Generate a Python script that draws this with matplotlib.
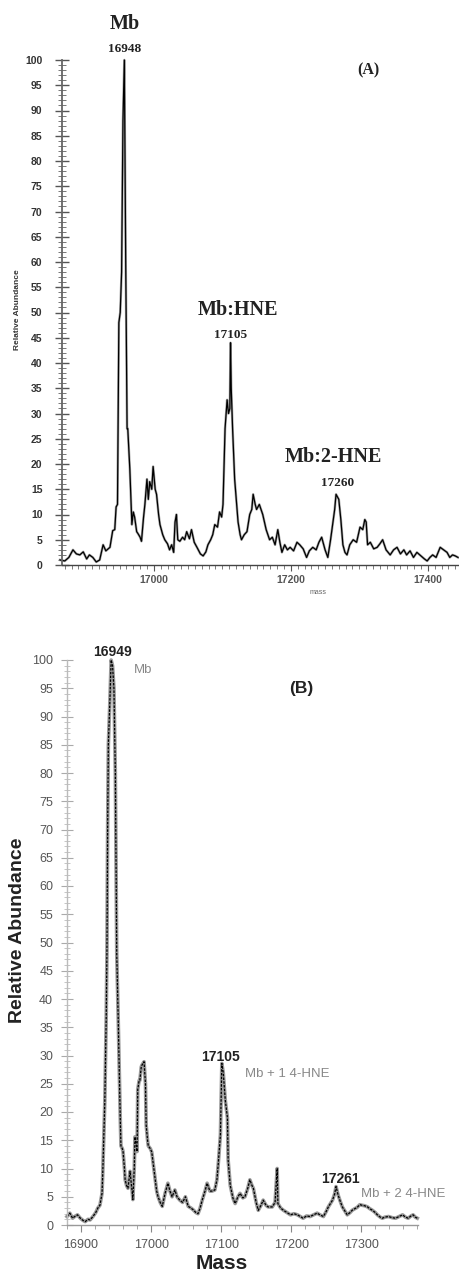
import matplotlib
matplotlib.use('Agg')
import matplotlib.pyplot as plt
from matplotlib.ticker import MultipleLocator, FixedLocator

# ---------------- data: panel (A) ----------------
mass_a = [16863, 16870, 16876, 16882, 16887, 16892, 16897, 16902, 16906, 16911,
          16916, 16921, 16926, 16930, 16936, 16940, 16943, 16945, 16947, 16949,
          16951, 16953, 16955, 16957, 16959, 16961, 16962, 16965, 16968, 16970,
          16972, 16975, 16977, 16980, 16982, 16985, 16987, 16990, 16992, 16994,
          16997, 16999, 17002, 17004, 17007, 17009, 17013, 17016, 17020, 17023,
          17026, 17029, 17031, 17033, 17035, 17038, 17042, 17045, 17048, 17052,
          17055, 17059, 17063, 17068, 17072, 17076, 17079, 17083, 17086, 17089,
          17093, 17096, 17099, 17101, 17104, 17107, 17109, 17111, 17112, 17113,
          17115, 17118, 17121, 17123, 17126, 17128, 17132, 17136, 17140, 17143,
          17145, 17148, 17150, 17154, 17159, 17164, 17169, 17173, 17177, 17181,
          17184, 17187, 17191, 17195, 17199, 17204, 17209, 17213, 17218, 17223,
          17227, 17232, 17237, 17241, 17245, 17250, 17254, 17258, 17261, 17264,
          17266, 17268, 17270, 17273, 17276, 17279, 17282, 17286, 17291, 17296,
          17301, 17305, 17308, 17310, 17312, 17316, 17321, 17326, 17330, 17334,
          17339, 17345, 17350, 17355, 17360, 17365, 17369, 17374, 17379, 17384,
          17390, 17395, 17399, 17403, 17407, 17412, 17418, 17423, 17428, 17432,
          17436, 17440, 17444]
abund_a = [1.0, 0.8, 1.5, 3.0, 2.2, 2.0, 2.6, 1.2, 2.0, 1.5,
           0.6, 1.0, 4.0, 2.8, 3.5, 6.8, 7.0, 11.5, 12, 48,
           50, 58, 88, 100, 60, 27, 27, 19, 8, 10.5,
           9.5, 6.6, 6.2, 5.5, 4.7, 9.4, 12, 17, 13, 16.5,
           15, 19.5, 15, 14, 10, 8, 6, 5, 4.2, 3,
           4.0, 2.5, 8.5, 10, 5, 4.7, 5.5, 5, 6.6, 5.2,
           7, 4.5, 3.5, 2.2, 1.8, 2.6, 4.0, 5.0, 6, 8,
           7.5, 10.5, 9.5, 12, 27, 32.7, 30, 31, 44, 35,
           27, 17, 12, 8.5, 6, 5, 6, 6.6, 10, 11,
           14, 12, 11, 12, 10, 7, 5, 5.5, 4, 7,
           4.5, 2.5, 4, 3, 3.5, 2.8, 4.5, 4, 3.2, 1.5,
           2.8, 3.5, 3, 4.5, 5.5, 3, 1.5, 5, 8, 11,
           14, 13.5, 13, 9, 4, 2.5, 2, 4, 5, 4.5,
           7.5, 7, 9, 8.5, 4, 4.5, 3.2, 3.5, 4.2, 5,
           3, 2, 3, 3.5, 2.2, 3, 2, 2.8, 1.5, 2.5,
           1.8, 1.2, 0.8, 1.5, 2, 1.5, 3.5, 3, 2.5, 1.5,
           2, 1.8, 1.5]
xticks_a = [17000, 17200, 17400]
yticks = list(range(0, 101, 5))

# ---------------- data: panel (B) ----------------
mass_b = [16880, 16884, 16888, 16891, 16895, 16899, 16903, 16906, 16910, 16913,
          16917, 16921, 16924, 16927, 16930, 16931, 16934, 16936, 16937, 16938,
          16939, 16941, 16943, 16945, 16947, 16949, 16950, 16951, 16953, 16955,
          16956, 16957, 16959, 16960, 16962, 16963, 16965, 16967, 16970, 16972,
          16973, 16974, 16976, 16977, 16979, 16980, 16981, 16983, 16984, 16986,
          16987, 16990, 16992, 16993, 16995, 16996, 16999, 17001, 17004, 17006,
          17008, 17010, 17013, 17016, 17020, 17024, 17027, 17030, 17034, 17037,
          17041, 17045, 17049, 17053, 17057, 17060, 17064, 17067, 17070, 17073,
          17077, 17080, 17084, 17087, 17091, 17094, 17096, 17099, 17101, 17103,
          17106, 17109, 17110, 17113, 17117, 17120, 17124, 17127, 17131, 17134,
          17138, 17141, 17144, 17146, 17150, 17153, 17157, 17160, 17164, 17167,
          17173, 17177, 17180, 17181, 17185, 17189, 17194, 17199, 17204, 17209,
          17213, 17217, 17222, 17227, 17232, 17237, 17241, 17246, 17250, 17253,
          17256, 17259, 17262, 17264, 17267, 17270, 17273, 17277, 17280, 17284,
          17287, 17291, 17294, 17298, 17301, 17305, 17309, 17312, 17316, 17320,
          17323, 17327, 17330, 17334, 17339, 17344, 17349, 17354, 17359, 17363,
          17367, 17371, 17374, 17377, 17380]
abund_b = [1.5, 2.1, 1.2, 1.5, 1.8, 1.2, 0.8, 0.6, 1.0, 0.9,
           1.5, 2.2, 3, 3.5, 5.6, 9, 22, 37, 48, 70,
           85, 92, 100, 99, 95, 80, 65, 48, 37, 25,
           19, 14, 13.5, 13, 10, 8, 7, 6.5, 9.5, 7,
           6, 4.5, 10, 15.6, 14, 13, 24, 25.6, 25.6, 28,
           28.3, 28.9, 25, 17.7, 15, 14, 13.5, 12.9, 10, 8,
           6, 5, 4, 3.3, 5.6, 7.4, 6, 5, 6.2, 5,
           4.4, 4.0, 5, 3.3, 3.0, 2.7, 2.2, 2.0, 3, 4.4,
           6, 7.4, 6, 6.0, 6.2, 8, 11, 16, 28.6, 27,
           22, 19, 11.5, 7, 4.7, 3.8, 5, 5.6, 4.8, 5,
           6.5, 8, 7, 6.5, 4, 2.6, 3.5, 4.4, 3.5, 3.2,
           3.2, 4, 10, 3.8, 3, 2.6, 2.2, 1.8, 2, 1.8,
           1.5, 1.2, 1.6, 1.5, 1.8, 2.1, 1.8, 1.5, 2.4, 3.2,
           3.8, 4.4, 5.5, 6.8, 5.3, 4.2, 3.2, 2.4, 1.8, 2.2,
           2.6, 2.9, 3.1, 3.6, 3.5, 3.4, 3.2, 2.9, 2.6, 2.2,
           1.8, 1.4, 1.2, 1.4, 1.5, 1.3, 1.2, 1.5, 1.8, 1.4,
           1.2, 1.6, 1.8, 1.4, 1.2]
xticks_b = [16900, 17000, 17100, 17200, 17300]

W, H = 459, 1272
fig = plt.figure(figsize=(W / 100, H / 100), dpi=100)
fig.patch.set_facecolor('white')


def fx(px):
    return px / W


def fy(py):
    return 1 - py / H


SERIF = 'Liberation Serif'
SANS = 'Liberation Sans'

# ================= Panel A =================
axA = fig.add_axes([fx(62), fy(565), fx(458) - fx(62), fy(60) - fy(565)])
axA.plot(mass_a, abund_a, color='#a8a8a8', lw=1.8, clip_on=False)
axA.plot(mass_a, abund_a, color='black', lw=0.9, clip_on=False)
axA.set_xlim(16866, 17444)
axA.set_ylim(0, 100)
for s in ['top', 'right']:
    axA.spines[s].set_visible(False)
axA.spines['left'].set_color('#666666')
axA.spines['left'].set_linewidth(1.3)
axA.spines['bottom'].set_color('#444444')
axA.spines['bottom'].set_linewidth(1.0)
axA.yaxis.set_major_locator(FixedLocator(yticks))
axA.yaxis.set_minor_locator(MultipleLocator(1))
axA.xaxis.set_major_locator(FixedLocator(xticks_a))
axA.xaxis.set_minor_locator(MultipleLocator(10))
axA.tick_params(axis='y', which='major', direction='inout', length=10, width=1.0,
                color='#555555', pad=9, labelsize=7.5, labelcolor='#333333')
axA.tick_params(axis='y', which='minor', direction='inout', length=6, width=0.7,
                color='#777777')
axA.tick_params(axis='x', which='major', direction='out', length=4, width=0.8,
                color='#555555', pad=3, labelsize=7.5, labelcolor='#555555')
axA.tick_params(axis='x', which='minor', direction='out', length=3, width=0.6,
                color='#666666')
for lab in axA.get_yticklabels() + axA.get_xticklabels():
    lab.set_fontfamily(SANS)
    lab.set_fontweight('bold')
fig.text(fx(18), fy(310), 'Relative Abundance', rotation=90, ha='center', va='center',
         fontsize=6, family=SANS, fontweight='bold', color='#333333')
fig.text(fx(318), fy(593), 'mass', ha='center', va='center', fontsize=5,
         family=SANS, color='#666666')

fig.text(fx(125), fy(24), 'Mb', ha='center', va='center', fontsize=14.5,
         family=SERIF, fontweight='bold', color='#222222')
fig.text(fx(125), fy(49), '16948', ha='center', va='center', fontsize=9.5,
         family=SERIF, fontweight='bold', color='#222222')
fig.text(fx(368), fy(70), '(A)', ha='center', va='center', fontsize=11.5,
         family=SERIF, fontweight='bold', color='#222222')
fig.text(fx(238), fy(310), 'Mb:HNE', ha='center', va='center', fontsize=14.5,
         family=SERIF, fontweight='bold', color='#222222')
fig.text(fx(231), fy(335), '17105', ha='center', va='center', fontsize=9.5,
         family=SERIF, fontweight='bold', color='#222222')
fig.text(fx(333), fy(457), 'Mb:2-HNE', ha='center', va='center', fontsize=14.5,
         family=SERIF, fontweight='bold', color='#222222')
fig.text(fx(338), fy(483), '17260', ha='center', va='center', fontsize=9.5,
         family=SERIF, fontweight='bold', color='#222222')

# ================= Panel B =================
axB = fig.add_axes([fx(67), fy(1225), fx(418) - fx(67), fy(660) - fy(1225)])
axB.plot(mass_b, abund_b, color='#9a9a9a', lw=2.6, clip_on=False)
axB.plot(mass_b, abund_b, color='black', lw=0.9, ls=(0, (2, 1)), clip_on=False)
axB.set_xlim(16880, 17381)
axB.set_ylim(0, 100)
for s in ['top', 'right']:
    axB.spines[s].set_visible(False)
axB.spines['left'].set_color('#bbbbbb')
axB.spines['left'].set_linewidth(1.0)
axB.spines['bottom'].set_color('#999999')
axB.spines['bottom'].set_linewidth(1.0)
axB.yaxis.set_major_locator(FixedLocator(yticks))
axB.yaxis.set_minor_locator(MultipleLocator(1))
axB.xaxis.set_major_locator(FixedLocator(xticks_b))
axB.xaxis.set_minor_locator(MultipleLocator(20))
axB.tick_params(axis='y', which='major', direction='inout', length=8, width=0.8,
                color='#aaaaaa', pad=6, labelsize=9, labelcolor='#555555')
axB.tick_params(axis='y', which='minor', direction='inout', length=5, width=0.6,
                color='#bbbbbb')
axB.tick_params(axis='x', which='major', direction='out', length=5, width=0.8,
                color='#888888', pad=5, labelsize=9, labelcolor='#555555')
axB.tick_params(axis='x', which='minor', direction='out', length=3, width=0.6,
                color='#999999')
for lab in axB.get_yticklabels() + axB.get_xticklabels():
    lab.set_fontfamily(SANS)

fig.text(fx(18), fy(930), 'Relative Abundance', rotation=90, ha='center', va='center',
         fontsize=14, family=SANS, fontweight='bold', color='#222222')
fig.text(fx(222), fy(1254), 'Mass', ha='center', va='top', fontsize=15,
         family=SANS, fontweight='bold', color='#222222')

fig.text(fx(113), fy(652), '16949', ha='center', va='center', fontsize=10,
         family=SANS, fontweight='bold', color='#222222')
fig.text(fx(143), fy(670), 'Mb', ha='center', va='center', fontsize=9.5,
         family=SANS, color='#888888')
fig.text(fx(301), fy(689), '(B)', ha='center', va='center', fontsize=12.5,
         family=SANS, fontweight='bold', color='#222222')
fig.text(fx(221), fy(1057), '17105', ha='center', va='center', fontsize=10,
         family=SANS, fontweight='bold', color='#222222')
fig.text(fx(287), fy(1074), 'Mb + 1 4-HNE', ha='center', va='center', fontsize=9.5,
         family=SANS, color='#888888')
fig.text(fx(340), fy(1179), '17261', ha='center', va='center', fontsize=10,
         family=SANS, fontweight='bold', color='#222222')
fig.text(fx(403), fy(1194), 'Mb + 2 4-HNE', ha='center', va='center', fontsize=9.5,
         family=SANS, color='#888888')

fig.savefig('out.png', dpi=100, facecolor='white')
